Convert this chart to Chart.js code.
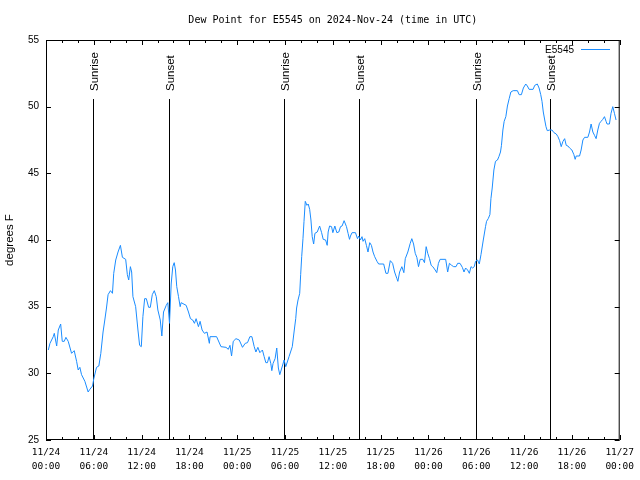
<!DOCTYPE html>
<html>
<head>
<meta charset="utf-8">
<script src="https://cdn.jsdelivr.net/npm/chart.js@4.4.1/dist/chart.umd.min.js"></script>
<style>
  html, body { margin: 0; padding: 0; background: #fff; }
  #wrap { width: 640px; height: 480px; }
</style>
</head>
<body>
<div id="wrap"><canvas id="dewChart" width="640" height="480"></canvas></div>
<script>
// --- DATA ---
// hours since 2024-11-24 00:00 UTC
const hours = [
  0.29, 0.5, 0.91, 1.04, 1.34, 1.54, 1.84, 2.04, 2.29, 2.5, 2.79, 3.21, 3.54, 3.84, 4.04, 4.25, 4.46, 4.88,
  5.29, 5.5, 5.84, 6.0, 6.34, 6.63, 6.88, 7.16, 7.38, 7.59, 7.79, 8.09, 8.34, 8.5, 8.75, 9.04, 9.34, 9.59,
  10.0, 10.21, 10.38, 10.59, 10.75, 10.91, 11.25, 11.54, 11.75, 11.96, 12.16, 12.38, 12.59, 12.88, 13.09,
  13.34, 13.59, 13.84, 14.04, 14.34, 14.54, 14.75, 15.09, 15.29, 15.5, 15.71, 15.91, 16.09, 16.25, 16.41,
  16.63, 16.84, 16.96, 17.59, 17.88, 18.13, 18.41, 18.63, 18.84, 19.13, 19.34, 19.59, 19.88, 20.21, 20.5,
  20.59, 21.41, 21.96, 22.59, 22.88, 23.09, 23.29, 23.5, 23.84, 24.25, 24.66, 25.0, 25.29, 25.59, 25.84,
  26.13, 26.34, 26.59, 26.84, 27.16, 27.38, 27.59, 27.79, 28.0, 28.21, 28.34, 28.5, 28.75, 28.96, 29.16,
  29.34, 29.59, 29.88, 30.09, 30.5, 30.91, 31.16, 31.34, 31.45, 31.63, 31.84, 31.96, 32.09, 32.25, 32.38,
  32.54, 32.75, 32.91, 33.09, 33.25, 33.41, 33.59, 33.75, 34.04, 34.34, 34.59, 34.79, 35.09, 35.29, 35.41,
  35.59, 35.84, 36.0, 36.25, 36.5, 36.75, 36.96, 37.16, 37.41, 37.71, 37.91, 38.09, 38.21, 38.41, 38.84,
  39.09, 39.25, 39.46, 39.66, 39.79, 40.0, 40.21, 40.41, 40.63, 40.84, 41.04, 41.25, 41.54, 41.75, 42.38,
  42.66, 42.91, 43.21, 43.5, 43.75, 44.04, 44.16, 44.38, 44.66, 44.91, 45.09, 45.41, 45.71, 45.91, 46.13,
  46.34, 46.54, 46.75, 46.96, 47.29, 47.5, 47.71, 47.91, 48.13, 48.34, 48.54, 48.84, 49.04, 49.25, 49.46,
  50.16, 50.41, 50.63, 50.91, 51.16, 51.46, 51.66, 51.96, 52.25, 52.46, 52.66, 52.91, 53.13, 53.34, 53.54,
  53.75, 53.91, 54.16, 54.38, 54.59, 54.88, 55.16, 55.29, 55.5, 55.71, 55.84, 56.0, 56.21, 56.41, 56.66,
  56.84, 57.04, 57.16, 57.34, 57.5, 57.71, 57.91, 58.13, 58.34, 58.63, 59.16, 59.38, 59.66, 59.91, 60.21,
  60.41, 60.63, 61.13, 61.34, 61.66, 61.88, 62.09, 62.25, 62.41, 62.59, 62.75, 62.91, 63.21, 63.5, 63.75,
  64.04, 64.25, 64.46, 64.66, 64.88, 65.09, 65.29, 65.5, 65.71, 66.0, 66.25, 66.41, 66.54, 66.96, 67.16,
  67.38, 67.59, 68.0, 68.21, 68.41, 68.63, 68.84, 69.04, 69.25, 69.46, 69.66, 69.88, 70.09, 70.29, 70.41,
  70.71, 70.91, 71.13, 71.34, 71.54
];

const dewPointF = [
  31.75, 32.25, 32.75, 33.0, 32.05, 33.25, 33.7, 32.4, 32.4, 32.7, 32.4, 31.5, 31.7, 30.9, 30.25, 30.45, 29.9, 29.4,
  28.6, 28.8, 29.05, 29.6, 30.45, 30.55, 31.5, 33.1, 34.0, 34.9, 35.9, 36.2, 36.0, 37.5, 38.5, 39.1, 39.6, 38.7,
  38.55, 37.4, 37.0, 38.0, 37.6, 35.75, 35.0, 33.25, 32.1, 32.0, 34.25, 35.6, 35.6, 34.95, 34.95,
  35.9, 36.2, 35.75, 34.75, 34.0, 32.8, 34.6, 35.1, 35.3, 33.75, 36.7, 38.0, 38.3, 37.75, 36.5,
  35.75, 35.0, 35.3, 35.1, 34.6, 34.1, 34.0, 33.75, 34.1, 33.5, 33.9, 33.25, 33.0, 33.1, 32.25,
  32.75, 32.75, 32.0, 31.95, 31.8, 32.1, 31.3, 32.4, 32.6, 32.5, 31.95, 32.25, 32.3, 32.75, 32.75,
  32.0, 31.6, 31.95, 31.55, 31.75, 31.25, 30.8, 30.8, 31.25, 30.75, 30.2, 30.75, 31.1, 31.9, 30.4,
  29.9, 30.4, 31.0, 30.5, 31.25, 32.0, 33.25, 34.1, 34.9, 35.5, 36.0, 37.4, 38.75, 40.1, 41.4,
  42.9, 42.6, 42.7, 42.3, 41.5, 40.25, 39.7, 40.5, 40.6, 41.05, 40.55, 40.05, 40.0, 39.6, 40.6,
  41.05, 41.0, 40.55, 41.05, 40.55, 40.6, 41.0, 41.05, 41.45, 41.0, 40.5, 40.05, 40.3, 40.55, 40.55,
  40.1, 40.3, 40.0, 40.25, 39.9, 40.1, 39.6, 39.1, 39.8, 39.6, 39.1, 38.75, 38.4, 38.2, 38.2,
  37.5, 37.5, 38.45, 38.25, 37.6, 37.1, 36.9, 37.6, 38.0, 37.55, 38.6, 39.1, 39.75, 40.1, 39.7,
  39.0, 38.7, 38.0, 38.55, 38.55, 38.3, 39.5, 39.0, 38.6, 38.1, 38.0, 37.75, 37.55, 38.25, 38.55,
  38.55, 37.6, 38.25, 38.1, 38.0, 38.0, 38.25, 38.25, 37.95, 37.6, 37.9, 37.75, 37.5, 38.0, 37.9,
  38.0, 38.4, 38.5, 38.2, 38.9, 40.0, 41.0, 41.4, 41.6, 41.9, 43.1, 43.9, 45.25, 45.9, 46.0,
  46.25, 46.6, 47.1, 48.25, 48.9, 49.25, 50.05, 50.6, 51.1, 51.2, 51.2, 50.9, 50.9, 51.4, 51.7,
  51.55, 51.3, 51.3, 51.6, 51.7, 51.4, 50.9, 50.4, 49.6, 49.0, 48.5, 48.2, 48.25, 48.25, 48.05,
  47.95, 47.75, 47.45, 47.0, 47.4, 47.6, 47.1, 47.05, 46.9, 46.75, 46.4, 46.05, 46.3, 46.3, 46.75,
  47.5, 47.7, 47.7, 48.1, 48.7, 48.1, 47.85, 47.6, 48.25, 48.75, 48.9, 49.05, 49.25, 48.9, 48.7,
  48.7, 49.5, 50.0, 49.5, 49.0
];

const tickDates = ['11/24', '11/24', '11/24', '11/24', '11/25', '11/25', '11/25', '11/25', '11/26', '11/26', '11/26', '11/26', '11/27'];
const tickTimes = ['00:00', '06:00', '12:00', '18:00', '00:00', '06:00', '12:00', '18:00', '00:00', '06:00', '12:00', '18:00', '00:00'];

const eventHours = [5.92, 15.42, 29.92, 39.3, 53.92, 63.3];
const eventLabels = ['Sunrise', 'Sunset', 'Sunrise', 'Sunset', 'Sunrise', 'Sunset'];

const seriesName = 'E5545';
const lineColor = '#1a8cff';
const monoFont = "'DejaVu Sans Mono', monospace";
const sansFont = "'Liberation Sans', Arial, sans-serif";

// --- DECORATIONS (title, frame, inward ticks, sun events, legend) ---
const gnuplotDecor = {
    id: 'gnuplotDecor',
    beforeDatasetsDraw(chart) {
        const { ctx, chartArea: a, scales: { x } } = chart;
        ctx.save();
        ctx.strokeStyle = '#000';
        ctx.lineWidth = 1;
        ctx.fillStyle = '#000';
        eventHours.forEach((h, i) => {
            const px = Math.round(x.getPixelForValue(h)) + 0.5;
            ctx.beginPath();
            ctx.moveTo(px, 99);
            ctx.lineTo(px, a.bottom);
            ctx.stroke();

            ctx.save();
            ctx.translate(px + 1.5, 91);
            ctx.rotate(-Math.PI / 2);
            ctx.font = `11.5px ${sansFont}`;
            ctx.textAlign = 'left';
            ctx.textBaseline = 'middle';
            ctx.fillText(eventLabels[i], 0, 0);
            ctx.restore();
        });
        ctx.restore();
    },
    afterDatasetsDraw(chart) {
        const { ctx, chartArea: a, scales: { x, y } } = chart;
        ctx.save();
        ctx.strokeStyle = '#000';
        ctx.lineWidth = 1;

        // frame
        ctx.strokeRect(a.left + 0.5, a.top + 0.5, a.right - a.left - 1, a.bottom - a.top - 1);

        // x ticks, major + minor, bottom and top
        ctx.beginPath();
        for (let v = 0; v <= 72; v += 2) {
            const px = Math.round(x.getPixelForValue(v)) + 0.5;
            const len = v % 6 === 0 ? 5 : 3;
            ctx.moveTo(px, a.bottom);
            ctx.lineTo(px, a.bottom - len);
            ctx.moveTo(px, a.top);
            ctx.lineTo(px, a.top + len);
        }
        // y ticks left and right
        y.ticks.forEach(t => {
            const py = Math.round(y.getPixelForValue(t.value)) + 0.5;
            ctx.moveTo(a.left, py);
            ctx.lineTo(a.left + 5, py);
            ctx.moveTo(a.right, py);
            ctx.lineTo(a.right - 5, py);
        });
        ctx.stroke();

        // title
        ctx.fillStyle = '#000';
        ctx.font = `10px ${monoFont}`;
        ctx.textAlign = 'center';
        ctx.textBaseline = 'middle';
        ctx.fillText('Dew Point for E5545 on 2024-Nov-24 (time in UTC)', (a.left + a.right) / 2, 20);

        // legend
        ctx.font = `10px ${sansFont}`;
        ctx.textAlign = 'right';
        ctx.fillText(seriesName, 574, 50);
        ctx.strokeStyle = lineColor;
        ctx.beginPath();
        ctx.moveTo(581, 49.5);
        ctx.lineTo(610, 49.5);
        ctx.stroke();
        ctx.restore();
    }
};

// --- CHART ---
const ctx = document.getElementById('dewChart').getContext('2d');
const dewChart = new Chart(ctx, {
    type: 'line',
    data: {
        datasets: [{
            label: seriesName,
            data: hours.map((h, i) => ({ x: h, y: dewPointF[i] })),
            borderColor: lineColor,
            borderWidth: 1,
            pointRadius: 0,
            tension: 0,
            fill: false
        }]
    },
    options: {
        responsive: false,
        animation: false,
        devicePixelRatio: 1,
        layout: { padding: { top: 40, right: 18, left: 0, bottom: 0 } },
        plugins: {
            legend: { display: false },
            title: { display: false },
            tooltip: { enabled: false }
        },
        scales: {
            x: {
                type: 'linear',
                min: 0,
                max: 72,
                grid: { display: false, drawTicks: false },
                border: { display: false },
                afterFit: s => { s.height = 40; },
                ticks: {
                    stepSize: 6,
                    autoSkip: false,
                    maxRotation: 0,
                    padding: 6,
                    color: '#000',
                    font: { family: monoFont, size: 9.5, lineHeight: 1.45 },
                    callback: (v) => {
                        const i = Math.round(v / 6);
                        return [tickDates[i], tickTimes[i]];
                    }
                }
            },
            y: {
                min: 25,
                max: 55,
                grid: { display: false, drawTicks: false },
                border: { display: false },
                afterFit: s => { s.width = 46; },
                title: {
                    display: true,
                    text: 'degrees F',
                    color: '#000',
                    padding: 3,
                    font: { family: sansFont, size: 11.5 }
                },
                ticks: {
                    stepSize: 5,
                    padding: 7,
                    color: '#000',
                    font: { family: sansFont, size: 10 }
                }
            }
        }
    },
    plugins: [gnuplotDecor]
});
</script>
</body>
</html>
